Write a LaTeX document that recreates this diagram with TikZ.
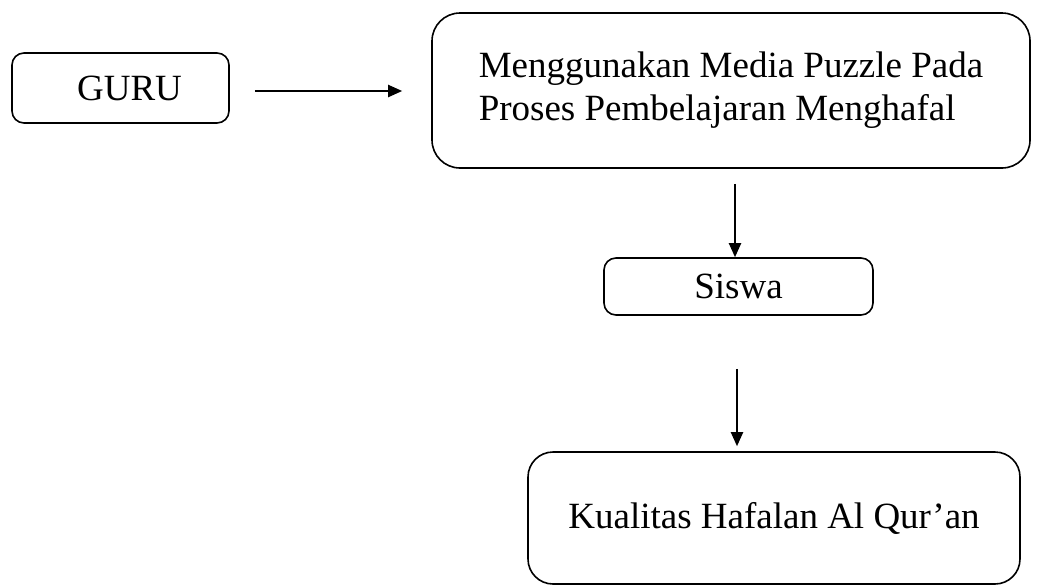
\documentclass[tikz,border=0pt]{standalone}
\usepackage{fontspec}
\setmainfont{Liberation Serif}
\usetikzlibrary{arrows.meta}
\begin{document}
\begin{tikzpicture}[x=1pt,y=-1pt,
  box/.style={draw,line width=1.6pt,inner sep=0pt,font=\fontsize{37}{43}\selectfont},
  arr/.style={line width=2pt,-{Triangle[length=14pt,width=12pt]}}]
\useasboundingbox (0,0) rectangle (1046,587);
\node[box,rounded corners=12pt,minimum width=217pt,minimum height=70pt] (guru) at (120.5,88) {\hspace*{18pt}GURU};
\node[box,rounded corners=28pt,minimum width=598pt,minimum height=155pt,align=left,inner ysep=0pt] (big) at (731,90.5) {Menggunakan Media Puzzle Pada\\Proses Pembelajaran Menghafal\\[-35pt]\mbox{}};
\node[box,rounded corners=12pt,minimum width=269pt,minimum height=57pt] (siswa) at (738.5,286.5) {Siswa};
\node[box,rounded corners=25pt,minimum width=492pt,minimum height=132pt] (kual) at (774,518) {Kualitas Hafalan Al Qur’an};
\draw[arr] ([xshift=25pt]guru.east|-0,91) -- ([xshift=-29pt]big.west|-0,91);
\draw[arr] ([yshift=-15pt]big.south-|735,0) -- (siswa.north-|735,0);
\draw[arr] ([yshift=-53pt]siswa.south-|737,0) -- ([yshift=5pt]kual.north-|737,0);
\end{tikzpicture}
\end{document}
